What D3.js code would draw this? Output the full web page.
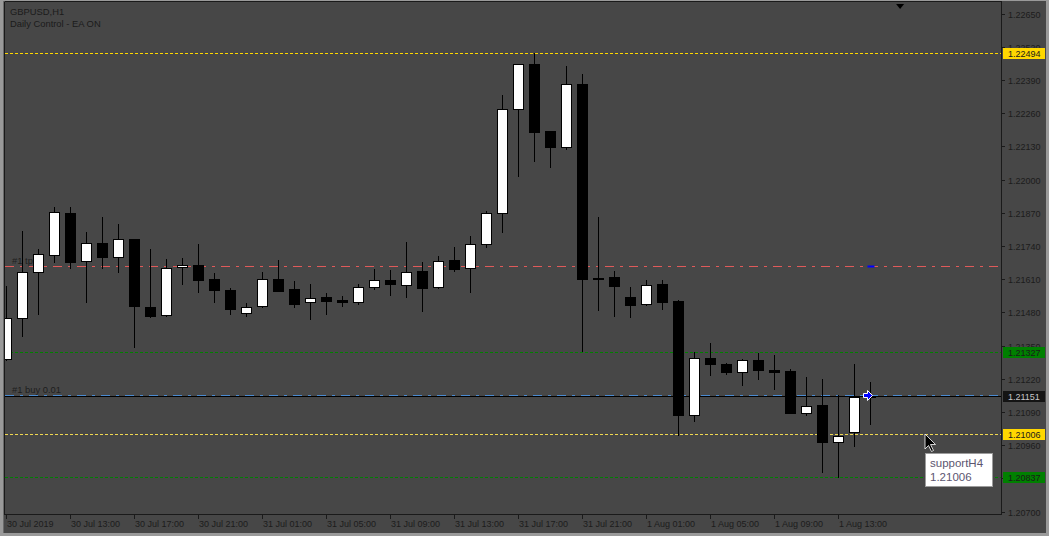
<!DOCTYPE html>
<html>
<head>
<meta charset="utf-8">
<script src="https://cdn.jsdelivr.net/npm/d3@7"></script>
<style>
html, body { margin: 0; padding: 0; background: #474747; overflow: hidden; }
svg { display: block; }
text { font-family: "Liberation Sans", Arial, sans-serif; }
</style>
</head>
<body>
<div id="chart"></div>
<script>
// GBPUSD H1 bars
const opens = [1.21296, 1.21460, 1.21637, 1.21703, 1.21868, 1.21680, 1.21750, 1.21698, 1.21766, 1.21503,
  1.21468, 1.21656, 1.21664, 1.21609, 1.21566, 1.21476, 1.21507, 1.21609, 1.21570, 1.21519,
  1.21539, 1.21528, 1.21519, 1.21578, 1.21605, 1.21586, 1.21641, 1.21578, 1.21684, 1.21652,
  1.21746, 1.21868, 1.22276, 1.22453, 1.22191, 1.22129, 1.22375, 1.21616, 1.21617, 1.21539,
  1.21511, 1.21591, 1.21524, 1.21079, 1.21303, 1.21280, 1.21245, 1.21292, 1.21256, 1.21249,
  1.21088, 1.21119, 1.20973, 1.21010, 1.21153];
const highs = [1.21587, 1.21803, 1.21731, 1.21897, 1.21897, 1.21799, 1.21857, 1.21830, 1.21770, 1.21731,
  1.21692, 1.21696, 1.21750, 1.21637, 1.21578, 1.21519, 1.21641, 1.21688, 1.21605, 1.21597,
  1.21558, 1.21547, 1.21594, 1.21654, 1.21650, 1.21758, 1.21680, 1.21703, 1.21739, 1.21782,
  1.21881, 1.22336, 1.22456, 1.22498, 1.22195, 1.22449, 1.22418, 1.21857, 1.21646, 1.21583,
  1.21610, 1.21610, 1.21532, 1.21328, 1.21363, 1.21285, 1.21301, 1.21324, 1.21316, 1.21264,
  1.21230, 1.21225, 1.21160, 1.21281, 1.21211];
const lows = [1.21294, 1.21388, 1.21474, 1.21678, 1.21655, 1.21521, 1.21655, 1.21639, 1.21345, 1.21463,
  1.21466, 1.21592, 1.21561, 1.21521, 1.21474, 1.21467, 1.21500, 1.21563, 1.21500, 1.21455,
  1.21474, 1.21506, 1.21511, 1.21572, 1.21549, 1.21541, 1.21486, 1.21576, 1.21643, 1.21561,
  1.21735, 1.21795, 1.22015, 1.22074, 1.22051, 1.22121, 1.21329, 1.21490, 1.21467, 1.21463,
  1.21508, 1.21494, 1.20999, 1.21055, 1.21235, 1.21238, 1.21195, 1.21220, 1.21180, 1.21086,
  1.21079, 1.20855, 1.20835, 1.20957, 1.21043];
const closes = [1.21460, 1.21637, 1.21707, 1.21872, 1.21678, 1.21750, 1.21698, 1.21766, 1.21506, 1.21467,
  1.21655, 1.21664, 1.21608, 1.21566, 1.21494, 1.21503, 1.21609, 1.21565, 1.21514, 1.21537,
  1.21525, 1.21519, 1.21578, 1.21605, 1.21590, 1.21637, 1.21576, 1.21680, 1.21651, 1.21746,
  1.21868, 1.22276, 1.22453, 1.22188, 1.22129, 1.22374, 1.21612, 1.21613, 1.21584, 1.21510,
  1.21586, 1.21521, 1.21079, 1.21303, 1.21280, 1.21247, 1.21292, 1.21256, 1.21245, 1.21086,
  1.21115, 1.20973, 1.20998, 1.21147, 1.21151];

const timeLabels = ["30 Jul 2019", "30 Jul 13:00", "30 Jul 17:00", "30 Jul 21:00", "31 Jul 01:00",
  "31 Jul 05:00", "31 Jul 09:00", "31 Jul 13:00", "31 Jul 17:00", "31 Jul 21:00",
  "1 Aug 01:00", "1 Aug 05:00", "1 Aug 09:00", "1 Aug 13:00"];
const timeLabelBars = [0, 4, 8, 12, 16, 20, 24, 28, 32, 36, 40, 44, 48, 52];

const priceTicks = [1.22650, 1.22520, 1.22390, 1.22260, 1.22130, 1.22000, 1.21870, 1.21740,
  1.21610, 1.21480, 1.21350, 1.21220, 1.21090, 1.20960, 1.20830, 1.20700];

// horizontal levels
const resistanceLevel = 1.22494;
const tpLevel = 1.21660;
const supportLevels = [1.21327, 1.20837];
const buyLevel = 1.21158;
const bidLevel = 1.21151;
const supportH4Level = 1.21006;

const W = 1049, H = 536;
const plot = { left: 5, right: 1001, top: 2, bottom: 514 };

const x = d3.scaleLinear().domain([0, 54]).range([6.5, 870.5]);
const y = d3.scaleLinear().domain([1.20700, 1.22650]).range([511.7, 13.5]);
const py = v => Math.round(y(v)) + 0.5;

const svg = d3.select("#chart").append("svg")
  .attr("width", W).attr("height", H);

svg.append("rect").attr("width", W).attr("height", H).attr("fill", "#474747");

// window frame
svg.append("rect").attr("x", 0).attr("y", 0).attr("width", 3).attr("height", H).attr("fill", "#9a9a9a");
svg.append("rect").attr("x", 0).attr("y", 0).attr("width", W).attr("height", 1).attr("fill", "#9a9a9a");
svg.append("rect").attr("x", W - 3).attr("y", 0).attr("width", 3).attr("height", H).attr("fill", "#9a9a9a");
svg.append("rect").attr("x", 0).attr("y", H - 3).attr("width", W).attr("height", 3).attr("fill", "#9a9a9a");
svg.append("rect").attr("x", 3).attr("y", 1).attr("width", 1).attr("height", H - 4).attr("fill", "#6a6a6a");

svg.append("defs").append("clipPath").attr("id", "plotclip")
  .append("rect")
  .attr("x", plot.left).attr("y", plot.top)
  .attr("width", plot.right - plot.left).attr("height", plot.bottom - plot.top);

const g = svg.append("g").attr("clip-path", "url(#plotclip)");

// text labels on the chart (drawn under the bars)
const infoTxt = svg.append("g").attr("fill", "#1b1b1b").attr("font-size", "9.4px");
infoTxt.append("text").attr("x", 10).attr("y", 15).text("GBPUSD,H1");
infoTxt.append("text").attr("x", 10).attr("y", 27).text("Daily Control - EA ON");

const lblTxt = g.append("g").attr("fill", "#1e1e1e").attr("font-size", "9.4px");
lblTxt.append("text").attr("x", 12).attr("y", py(tpLevel) - 3).text("#1 tp");
lblTxt.append("text").attr("x", 12).attr("y", py(buyLevel) - 3).text("#1 buy 0.01");

const hline = (v, color, dash, width) => g.append("line")
  .attr("x1", plot.left).attr("x2", plot.right)
  .attr("y1", py(v)).attr("y2", py(v))
  .attr("stroke", color).attr("stroke-width", width || 1)
  .attr("stroke-dasharray", dash)
  .attr("shape-rendering", "crispEdges");

hline(resistanceLevel, "#ffd700", "3,2");
hline(tpLevel, "#e05a5a", "9,6,3,6");
supportLevels.forEach(v => hline(v, "#008000", "3,2"));
hline(supportH4Level, "#f0d850", "3,2");
hline(buyLevel, "#4a8ad0", "9,6,3,6");
hline(bidLevel, "#000000", null);

// candles
const bars = d3.range(opens.length).map(i => ({
  i, o: opens[i], h: highs[i], l: lows[i], c: closes[i]
}));

const cg = g.append("g").attr("shape-rendering", "crispEdges");
cg.selectAll("line.wick").data(bars).join("line")
  .attr("class", "wick")
  .attr("x1", d => x(d.i)).attr("x2", d => x(d.i))
  .attr("y1", d => py(d.h)).attr("y2", d => py(d.l))
  .attr("stroke", "#000").attr("stroke-width", 1);

cg.selectAll("rect.body").data(bars).join("rect")
  .attr("class", "body")
  .attr("x", d => x(d.i) - 5)
  .attr("width", 10)
  .attr("y", d => Math.min(py(d.o), py(d.c)))
  .attr("height", d => Math.max(1, Math.abs(py(d.o) - py(d.c))))
  .attr("fill", d => d.c > d.o ? "#ffffff" : "#000000")
  .attr("stroke", "#000").attr("stroke-width", 1);

// tp marker and order arrow on the last bar
const last = bars.length - 1;
g.append("line")
  .attr("x1", x(last) - 3).attr("x2", x(last) + 4)
  .attr("y1", py(tpLevel)).attr("y2", py(tpLevel))
  .attr("stroke", "#0000ff").attr("stroke-width", 2);
g.append("path")
  .attr("transform", `translate(${x(last) - 2},${py(buyLevel)})`)
  .attr("d", "M-5,-2 H-1 V-5 L4,0 L-1,5 V2 H-5 Z")
  .attr("fill", "#0000ff").attr("stroke", "#ffffff").attr("stroke-width", 1);

// chart shift marker
svg.append("path")
  .attr("transform", `translate(${x(55.85)},4)`)
  .attr("d", "M-4,0 H4 L0,5 Z")
  .attr("fill", "#000");

// frame of plot area
const frame = svg.append("g").attr("stroke", "#1a1a1a").attr("shape-rendering", "crispEdges");
frame.append("line").attr("x1", plot.left - 0.5).attr("x2", plot.left - 0.5).attr("y1", plot.top).attr("y2", plot.bottom + 1);
frame.append("line").attr("x1", plot.left).attr("x2", plot.right + 1).attr("y1", plot.top - 0.5).attr("y2", plot.top - 0.5);
frame.append("line").attr("x1", plot.right + 0.5).attr("x2", plot.right + 0.5).attr("y1", plot.top).attr("y2", plot.bottom + 1);
frame.append("line").attr("x1", plot.left).attr("x2", plot.right + 1).attr("y1", plot.bottom + 0.5).attr("y2", plot.bottom + 0.5);

// price axis
const pAxis = svg.append("g").attr("font-size", "9px").attr("fill", "#1c1c1c");
priceTicks.forEach(v => {
  pAxis.append("line")
    .attr("x1", plot.right + 1).attr("x2", plot.right + 4)
    .attr("y1", py(v)).attr("y2", py(v))
    .attr("stroke", "#1a1a1a").attr("shape-rendering", "crispEdges");
  pAxis.append("text")
    .attr("x", plot.right + 7).attr("y", py(v) + 3.5)
    .text(v.toFixed(5));
});

// price tags
const tag = (v, bg, fg) => {
  pAxis.append("rect")
    .attr("x", plot.right + 2).attr("y", Math.round(y(v)) - 5)
    .attr("width", 42).attr("height", 11)
    .attr("fill", bg);
  pAxis.append("text")
    .attr("x", plot.right + 7).attr("y", Math.round(y(v)) + 4)
    .attr("fill", fg)
    .text(v.toFixed(5));
};
tag(resistanceLevel, "#ffd700", "#1a1a1a");
supportLevels.forEach(v => tag(v, "#008000", "#1a1a1a"));
tag(bidLevel, "#141414", "#c8c8c8");
tag(supportH4Level, "#ffd700", "#1a1a1a");

// time axis
const tAxis = svg.append("g").attr("font-size", "9px").attr("fill", "#1c1c1c");
timeLabelBars.forEach((b, k) => {
  tAxis.append("line")
    .attr("x1", x(b)).attr("x2", x(b))
    .attr("y1", plot.bottom + 1).attr("y2", plot.bottom + 5)
    .attr("stroke", "#1a1a1a").attr("shape-rendering", "crispEdges");
  tAxis.append("text")
    .attr("x", x(b) + 0.5).attr("y", plot.bottom + 13)
    .text(timeLabels[k]);
});

// tooltip for supportH4 line
const tipX = 925, tipY = Math.round(y(supportH4Level)) + 19;
const tip = svg.append("g");
tip.append("rect")
  .attr("x", tipX + 0.5).attr("y", tipY + 0.5)
  .attr("width", 67).attr("height", 33)
  .attr("fill", "#ffffff").attr("stroke", "#9c9c9c");
tip.append("text")
  .attr("x", tipX + 5).attr("y", tipY + 14)
  .attr("font-size", "11.5px").attr("fill", "#5c5670")
  .text("supportH4");
tip.append("text")
  .attr("x", tipX + 5).attr("y", tipY + 28)
  .attr("font-size", "11.5px").attr("fill", "#5c5670")
  .text(supportH4Level.toFixed(5));

// mouse pointer
svg.append("path")
  .attr("transform", `translate(${tipX},${Math.round(y(supportH4Level))})`)
  .attr("d", "M0,0 L0,15 L3.5,11.5 L6.5,17.5 L8.5,16.5 L5.5,10.5 L10.5,10.5 Z")
  .attr("fill", "#000").attr("stroke", "#ffffff").attr("stroke-width", 0.8);
</script>
</body>
</html>
